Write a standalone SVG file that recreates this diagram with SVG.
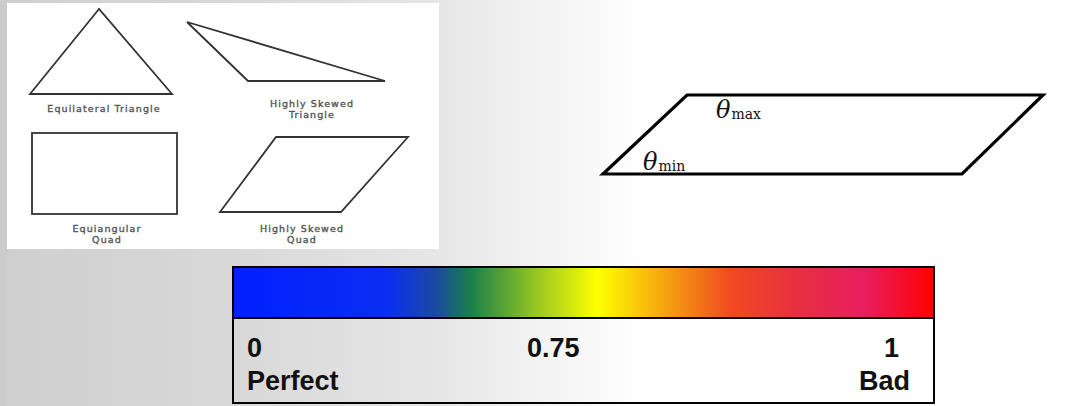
<svg xmlns="http://www.w3.org/2000/svg" width="1067" height="406" viewBox="0 0 1067 406">
  <defs>
    <linearGradient id="bg" gradientUnits="userSpaceOnUse" x1="0" y1="0" x2="1067" y2="0">
      <stop offset="0" stop-color="#cfcfcf"/>
      <stop offset="0.215" stop-color="#d8d8d8"/>
      <stop offset="0.41" stop-color="#e6e6e6"/>
      <stop offset="0.525" stop-color="#f5f5f5"/>
      <stop offset="0.6" stop-color="#ffffff"/>
      <stop offset="1" stop-color="#ffffff"/>
    </linearGradient>
    <linearGradient id="scale" x1="0" y1="0" x2="1" y2="0">
      <stop offset="0" stop-color="#0020ff"/>
      <stop offset="0.22" stop-color="#0a2ef2"/>
      <stop offset="0.29" stop-color="#1a4aa0"/>
      <stop offset="0.34" stop-color="#1a804a"/>
      <stop offset="0.44" stop-color="#a0cc20"/>
      <stop offset="0.52" stop-color="#ffff00"/>
      <stop offset="0.62" stop-color="#f5a010"/>
      <stop offset="0.71" stop-color="#f04a20"/>
      <stop offset="0.80" stop-color="#e83040"/>
      <stop offset="0.90" stop-color="#e81e60"/>
      <stop offset="1" stop-color="#ff0000"/>
    </linearGradient>
  </defs>
  <style>
    .shape { fill: none; stroke: #333333; stroke-width: 1.8; stroke-linejoin: miter; }
    .lbl { font-family: "DejaVu Sans", sans-serif; font-size: 9.5px; fill: #555555; stroke: #555555; stroke-width: 0.35; text-anchor: middle; letter-spacing: 1.1px; }
    .num { font-family: "Liberation Sans", Arial, sans-serif; font-weight: bold; font-size: 27px; fill: #111111; }
    .th { font-family: "DejaVu Serif", "Liberation Serif", serif; font-style: italic; font-size: 24px; fill: #111111; }
    .sub { font-family: "DejaVu Serif", serif; font-style: normal; font-size: 14px; }
  </style>

  <rect x="0" y="0" width="1067" height="406" fill="url(#bg)"/>
  <rect x="0" y="0" width="7" height="406" fill="#cccccc"/>

  <g id="panel">
    <rect x="7" y="3" width="432" height="246" fill="#ffffff"/>
  </g>

  <g id="equilateral-triangle">
    <polygon class="shape" points="99,9 30,94 172,94"/>
    <text class="lbl" x="104" y="112">Equilateral Triangle</text>
  </g>

  <g id="skewed-triangle">
    <polygon class="shape" points="187,22 248,81 385,81"/>
    <text class="lbl" x="312" y="107">Highly Skewed</text>
    <text class="lbl" x="312" y="118">Triangle</text>
  </g>

  <g id="equiangular-quad">
    <rect class="shape" x="32" y="133" width="145" height="81"/>
    <text class="lbl" x="107" y="232">Equiangular</text>
    <text class="lbl" x="107" y="242.5">Quad</text>
  </g>

  <g id="skewed-quad">
    <polygon class="shape" points="276,137 408,137 341,212 220,212"/>
    <text class="lbl" x="302" y="232">Highly Skewed</text>
    <text class="lbl" x="302" y="242.5">Quad</text>
  </g>

  <g id="parallelogram">
    <polygon points="687,95 1043,95 962,174 603,174" fill="none" stroke="#000000" stroke-width="3.2" stroke-linejoin="miter"/>
    <text class="th" x="716" y="118">θ<tspan class="sub" dx="1" dy="1">max</tspan></text>
    <text class="th" x="643" y="170">θ<tspan class="sub" dx="1" dy="1">min</tspan></text>
  </g>

  <g id="colorbar">
    <rect x="233" y="267" width="701" height="51" fill="url(#scale)"/>
    <rect x="233" y="267" width="701" height="136" fill="none" stroke="#000000" stroke-width="2"/>
    <line x1="233" y1="318" x2="934" y2="318" stroke="#000000" stroke-width="2"/>
    <text class="num" x="247" y="357">0</text>
    <text class="num" x="527" y="357">0.75</text>
    <text class="num" x="899" y="357" text-anchor="end">1</text>
    <text class="num" x="247" y="390">Perfect</text>
    <text class="num" x="910" y="390" text-anchor="end">Bad</text>
  </g>
</svg>
